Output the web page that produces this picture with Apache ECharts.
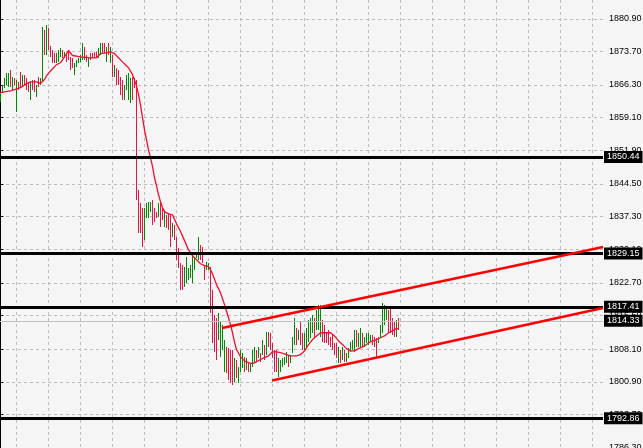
<!DOCTYPE html>
<html>
<head>
<meta charset="utf-8">
<script src="https://cdn.jsdelivr.net/npm/echarts@6/dist/echarts.min.js"></script>
<style>
html,body{margin:0;padding:0;background:#f5f5f5;}
#c{width:643px;height:448px;}
</style>
</head>
<body>
<div id="c"></div>
<script>
// ---- data ----
const yTicks = [1880.9, 1873.7, 1866.3, 1859.1, 1851.9, 1844.5, 1837.3, 1830.1, 1822.7, 1815.5, 1808.1, 1800.9, 1793.7, 1786.3];

const highs = [
1864.8,1866.4,1867.9,1869.0,1869.0,1869.7,1868.1,1867.9,1867.5,1867.0,
1869.2,1868.6,1868.6,1867.9,1867.0,1867.0,1867.5,1867.5,1866.4,1868.1,
1867.9,1879.1,1878.5,1879.6,1878.9,1875.0,1874.1,1873.4,1873.4,1874.1,
1874.5,1874.1,1873.6,1873.4,1874.1,1872.5,1872.3,1871.2,1871.9,1872.3,
1873.0,1875.6,1874.7,1873.0,1872.5,1873.4,1873.4,1873.6,1873.6,1874.5,
1875.6,1875.6,1875.6,1874.7,1875.6,1874.7,1873.0,1870.8,1870.1,1869.7,
1868.1,1867.5,1866.4,1868.6,1869.0,1867.9,1868.1,1867.9,1867.5,1843.2,
1840.4,1839.3,1839.3,1840.4,1840.6,1840.6,1841.0,1839.3,1838.4,1840.4,
1840.6,1839.5,1838.8,1837.7,1838.1,1837.7,1835.9,1835.5,1832.9,1830.4,
1827.1,1826.7,1826.3,1828.5,1826.0,1826.7,1829.3,1828.5,1829.6,1832.9,
1831.1,1830.7,1826.7,1827.4,1827.1,1826.3,1821.2,1815.7,1815.0,1816.1,
1814.1,1813.5,1810.2,1808.6,1808.4,1808.0,1808.0,1806.2,1805.8,1804.2,
1808.0,1807.3,1806.4,1806.2,1805.3,1805.1,1808.0,1808.6,1808.0,1808.6,
1807.3,1810.2,1809.1,1811.9,1811.9,1811.7,1809.5,1808.0,1808.0,1806.2,
1805.8,1806.2,1806.4,1807.5,1806.9,1806.9,1810.8,1815.0,1812.8,1812.4,
1814.1,1811.7,1811.7,1812.8,1814.6,1815.0,1815.7,1815.0,1816.8,1817.9,
1817.9,1814.6,1813.5,1811.9,1812.4,1810.8,1811.3,1809.5,1809.5,1808.6,
1808.0,1808.6,1808.0,1807.3,1808.4,1809.7,1810.2,1812.4,1812.4,1811.7,
1812.8,1811.7,1810.8,1811.7,1811.7,1811.3,1811.3,1810.8,1810.6,1810.8,
1813.5,1818.3,1817.9,1817.4,1816.8,1817.2,1815.0,1814.1,1814.6,1815.0
];

const lows = [
1862.6,1864.6,1865.7,1866.4,1865.9,1865.9,1865.3,1866.4,1860.4,1865.3,
1865.9,1865.9,1866.4,1865.3,1864.8,1863.1,1865.3,1864.8,1863.7,1865.9,
1866.4,1867.0,1873.0,1873.0,1874.1,1872.5,1871.2,1871.2,1871.2,1871.4,
1872.5,1872.3,1872.3,1871.4,1871.9,1869.7,1870.1,1868.6,1870.3,1871.2,
1871.4,1871.9,1871.9,1871.4,1870.3,1871.9,1872.3,1872.3,1872.3,1872.3,
1873.0,1873.4,1873.4,1871.4,1873.0,1871.2,1868.1,1868.1,1866.4,1866.4,
1864.2,1863.1,1863.1,1865.3,1863.1,1862.4,1863.1,1865.7,1841.0,1833.7,
1833.7,1830.7,1832.2,1837.0,1837.0,1838.4,1835.5,1836.2,1837.0,1837.3,
1835.1,1836.6,1835.1,1834.8,1834.4,1830.7,1832.9,1832.2,1827.8,1826.0,
1821.2,1821.2,1821.8,1822.7,1823.4,1823.8,1822.7,1825.6,1828.2,1827.8,
1827.8,1827.1,1823.4,1825.6,1825.6,1816.1,1809.5,1807.5,1805.8,1810.2,
1806.4,1808.0,1803.1,1802.9,1801.3,1800.7,1800.2,1800.9,1801.8,1800.7,
1803.1,1804.0,1803.1,1803.5,1803.1,1803.1,1804.2,1805.3,1805.3,1806.2,
1805.3,1806.9,1805.8,1806.9,1808.6,1808.0,1806.2,1803.1,1803.1,1802.0,
1803.1,1804.2,1804.6,1805.1,1804.2,1805.1,1807.3,1809.1,1809.1,1810.2,
1809.1,1808.0,1808.0,1808.6,1809.7,1810.6,1811.7,1810.6,1812.4,1812.4,
1810.8,1809.7,1809.5,1809.5,1809.1,1808.6,1808.0,1806.9,1806.2,1805.1,
1805.1,1805.8,1805.3,1805.3,1806.2,1807.5,1808.0,1807.5,1808.6,1808.6,
1808.6,1808.6,1808.6,1809.5,1809.1,1809.7,1809.1,1808.6,1806.2,1809.5,
1810.6,1811.7,1813.5,1814.6,1811.7,1811.7,1811.3,1810.8,1810.8,1812.4
];

// 1 = bullish (green), 0 = bearish (red)
const bullish = [
1,1,1,1,1,0,1,0,1,0,
0,1,0,0,0,1,0,0,1,0,
1,1,0,1,0,0,0,0,1,1,
1,0,1,0,0,0,0,1,1,1,
1,1,0,0,1,0,0,0,0,1,
1,0,0,1,0,1,0,1,0,0,
0,0,1,1,1,1,0,0,0,0,
0,0,1,1,1,1,0,0,0,1,
0,0,1,0,0,0,1,0,0,0,
0,0,1,1,1,1,1,1,1,1,
0,0,0,1,1,0,0,0,0,1,
1,1,1,0,0,0,0,1,0,1,
1,1,0,1,0,1,1,1,0,1,
0,1,0,1,0,0,0,0,0,1,
1,1,1,1,0,1,1,1,0,1,
0,0,1,1,1,1,1,0,1,1,
1,0,0,0,0,0,0,0,0,1,
0,1,0,1,1,1,1,1,0,1,
1,0,1,1,1,1,0,0,0,1,
1,1,1,1,0,0,0,0,1,0
];

// moving average (bar index, value)
const maIndex = [0,5,10,13,15,18,20,22,23,25,28,30,32,34,36,37,40,45,48,50,53,55,57,59,61,64,66,68,69,70,71,72,73,74,75,76,77,78,79,80,81,82,84,86,88,90,92,94,96,98,100,102,104,105,106,108,110,112,114,115,116,117,118,120,122,124,126,128,130,132,134,136,138,140,143,145,148,150,152,154,156,158,160,163,165,167,169,171,173,175,177,179,181,183,185,188,190,192,194,196,198,199];
const maValues = [1864.6,1865.0,1865.7,1866.6,1867.0,1867.0,1866.6,1867.5,1868.3,1869.4,1870.8,1871.2,1872.5,1873.9,1872.8,1872.5,1872.5,1872.3,1872.3,1873.2,1873.4,1873.6,1873.2,1872.3,1871.4,1870.1,1868.6,1866.1,1864.2,1861.9,1859.1,1856.4,1854.2,1852.0,1850.3,1848.3,1845.9,1844.1,1842.1,1840.6,1839.3,1838.4,1837.9,1837.7,1835.7,1834.0,1832.0,1830.0,1828.7,1827.8,1826.9,1826.5,1826.3,1825.6,1824.7,1822.3,1820.5,1817.9,1815.0,1813.5,1811.7,1809.7,1808.0,1806.4,1805.5,1805.1,1804.9,1805.3,1805.8,1806.2,1806.6,1807.5,1807.5,1807.3,1806.9,1806.6,1806.6,1806.9,1807.7,1809.1,1810.2,1811.0,1811.7,1811.7,1811.7,1811.0,1809.9,1809.1,1808.2,1807.7,1807.7,1808.2,1808.6,1809.1,1809.7,1810.2,1810.6,1811.0,1811.7,1812.1,1812.6,1812.6];

const levels = [1850.44, 1829.15, 1817.41, 1792.86];
const bidPrice = 1814.33;
const upperTrend = [[110.75, 1812.75], [301.25, 1830.6]];
const lowerTrend = [[135.75, 1801.18], [301.25, 1817.15]];

// ---- chart ----
const GREEN = '#008a00', RED = '#e3163e', MA_RED = '#f0102e';
const FONT = 'Liberation Sans';
const gridX = [];
for (let k = 0; k < 19; k++) gridX.push(7.75 + 16 * k);

const barData = highs.map((h, i) => [i, lows[i], h, bullish[i]]);
const maData = maIndex.map((ix, k) => [ix, maValues[k]]);

const priceLabel = {
  show: true, position: 'end', distance: 1,
  formatter: p => p.value.toFixed(2),
  color: '#fff', backgroundColor: '#000',
  fontFamily: FONT, fontSize: 9, padding: [2, 3, 1, 3]
};

const levelLines = levels.map(v => ({
  yAxis: v, lineStyle: { color: '#000', width: 3, type: 'solid' }, label: priceLabel
}));
levelLines.push({
  yAxis: bidPrice, lineStyle: { color: '#c0c0c0', width: 1, type: 'solid' }, label: priceLabel
});

const chart = echarts.init(document.getElementById('c'), null, { renderer: 'canvas' });
chart.setOption({
  animation: false,
  backgroundColor: '#f5f5f5',
  grid: { left: 0, right: 40, top: 0, bottom: 0, outerBoundsMode: 'none', containLabel: false },
  xAxis: {
    type: 'value', min: -0.25, max: 301.25,
    axisLine: { show: false }, axisLabel: { show: false },
    axisTick: { show: false, customValues: gridX },
    splitLine: { show: true, lineStyle: { color: '#bdbdbd', type: [3, 3], width: 1 } }
  },
  yAxis: {
    type: 'value', position: 'right', min: 1786.3, max: 1885.033,
    axisLine: { show: true, lineStyle: { color: '#000', width: 1 } },
    axisTick: { show: true, length: 3, customValues: yTicks, lineStyle: { color: '#000' } },
    axisLabel: {
      customValues: yTicks, margin: 6, color: '#000', fontFamily: FONT, fontSize: 9,
      formatter: v => v.toFixed(2)
    },
    splitLine: { show: true, lineStyle: { color: '#bdbdbd', type: [3, 3], width: 1 } }
  },
  series: [
    {
      type: 'custom', data: barData, z: 2,
      encode: { x: 0, y: [1, 2] },
      renderItem: (params, api) => {
        const i = api.value(0);
        const lo = api.coord([i, api.value(1)]);
        const hi = api.coord([i, api.value(2)]);
        const x = Math.floor(lo[0]) + 0.5;
        return {
          type: 'line',
          shape: { x1: x, y1: Math.round(lo[1]), x2: x, y2: Math.round(hi[1]) },
          style: { stroke: api.value(3) ? GREEN : RED, lineWidth: 1 }
        };
      }
    },
    {
      type: 'line', data: maData, z: 3, showSymbol: false, symbol: 'none',
      lineStyle: { color: MA_RED, width: 1.3 }
    },
    {
      type: 'line', data: [], z: 10,
      markLine: {
        silent: true, symbol: ['none', 'none'], animation: false,
        data: levelLines.concat([
          [{ coord: upperTrend[0] }, { coord: upperTrend[1] }],
          [{ coord: lowerTrend[0] }, { coord: lowerTrend[1] }]
        ].map(pair => [
          Object.assign({}, pair[0], { lineStyle: { color: '#ff0000', width: 2.5, type: 'solid' }, label: { show: false } }),
          pair[1]
        ]))
      }
    }
  ]
});
</script>
</body>
</html>
